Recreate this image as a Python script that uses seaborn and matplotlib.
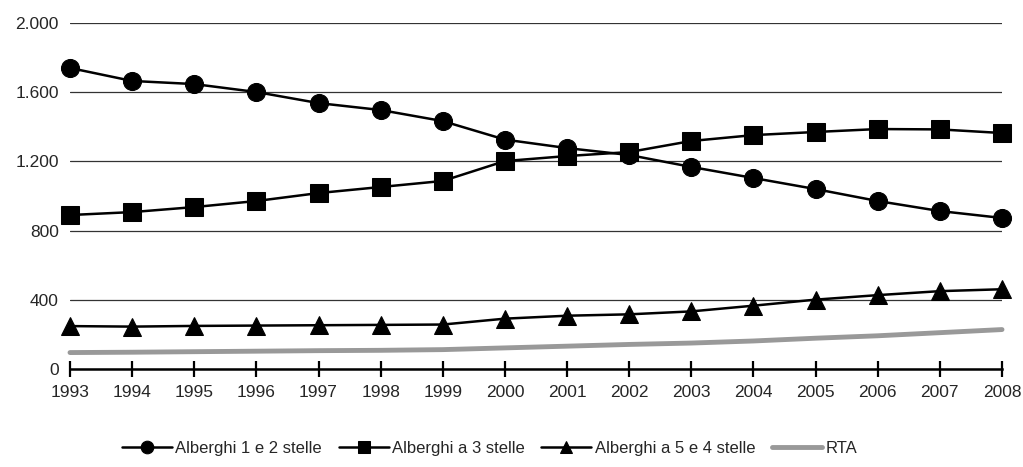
import matplotlib
matplotlib.use("Agg")
import matplotlib.pyplot as plt
from matplotlib.ticker import FuncFormatter
import seaborn as sns
import pandas as pd

# data
years = list(range(1993, 2009))
alberghi_1_2 = [1740, 1665, 1647, 1601, 1537, 1497, 1433, 1326, 1277, 1237, 1168, 1104, 1040, 971, 913, 873]
alberghi_3 = [890, 907, 936, 971, 1017, 1052, 1087, 1202, 1231, 1254, 1318, 1352, 1370, 1387, 1385, 1364]
alberghi_5_4 = [248, 245, 249, 251, 253, 255, 257, 291, 308, 316, 333, 366, 401, 427, 450, 461]
rta = [95, 97, 100, 103, 106, 108, 112, 122, 132, 142, 150, 162, 178, 192, 210, 228]

labels = ["Alberghi 1 e 2 stelle", "Alberghi a 3 stelle", "Alberghi a 5 e 4 stelle", "RTA"]
yticks = [0, 400, 800, 1200, 1600, 2000]

sns.set_style("white")
plt.rcParams['font.family'] = ['Liberation Sans Narrow', 'Liberation Sans', 'DejaVu Sans']

fig = plt.figure(figsize=(10.23, 4.67), dpi=100)
ax = fig.add_axes([70 / 1023, 1 - 369 / 467, (1002 - 70) / 1023, (369 - 23) / 467])

series = [
    (alberghi_1_2, "o", "black", 1.8),
    (alberghi_3, "s", "black", 1.8),
    (alberghi_5_4, "^", "black", 1.8),
    (rta, None, "#999999", 3.5),
]
for (vals, mk, col, lw), lab in zip(series, labels):
    df = pd.DataFrame({"anno": years, "valore": vals})
    sns.lineplot(data=df, x="anno", y="valore", ax=ax, color=col, lw=lw,
                 marker=mk, markersize=13 if mk else 0, markeredgecolor=col,
                 label=lab, clip_on=False, zorder=3)

ax.set_xlim(1993, 2008)
ax.set_ylim(0, 2000)
ax.set_xticks(years)
ax.set_yticks(yticks)
ax.yaxis.set_major_formatter(FuncFormatter(lambda v, p: f"{int(v):,}".replace(",", ".")))
ax.grid(axis="y", color="#333333", lw=0.9)
ax.set_axisbelow(True)
for s in ["top", "right", "left"]:
    ax.spines[s].set_visible(False)
ax.spines["bottom"].set_color("black")
ax.spines["bottom"].set_linewidth(1.8)
ax.tick_params(axis="x", direction="inout", length=11, width=1.6, color="black",
               labelsize=12.5, pad=6, bottom=True)
ax.tick_params(axis="y", length=0, labelsize=12.5, pad=8)
ax.set_xlabel("")
ax.set_ylabel("")

leg = ax.legend(loc="upper center", bbox_to_anchor=(0.45, -0.165), ncol=4, frameon=False,
                fontsize=12, handlelength=3, handletextpad=0.2, columnspacing=1.0,
                markerscale=0.7)

fig.savefig("out.png", dpi=100)
